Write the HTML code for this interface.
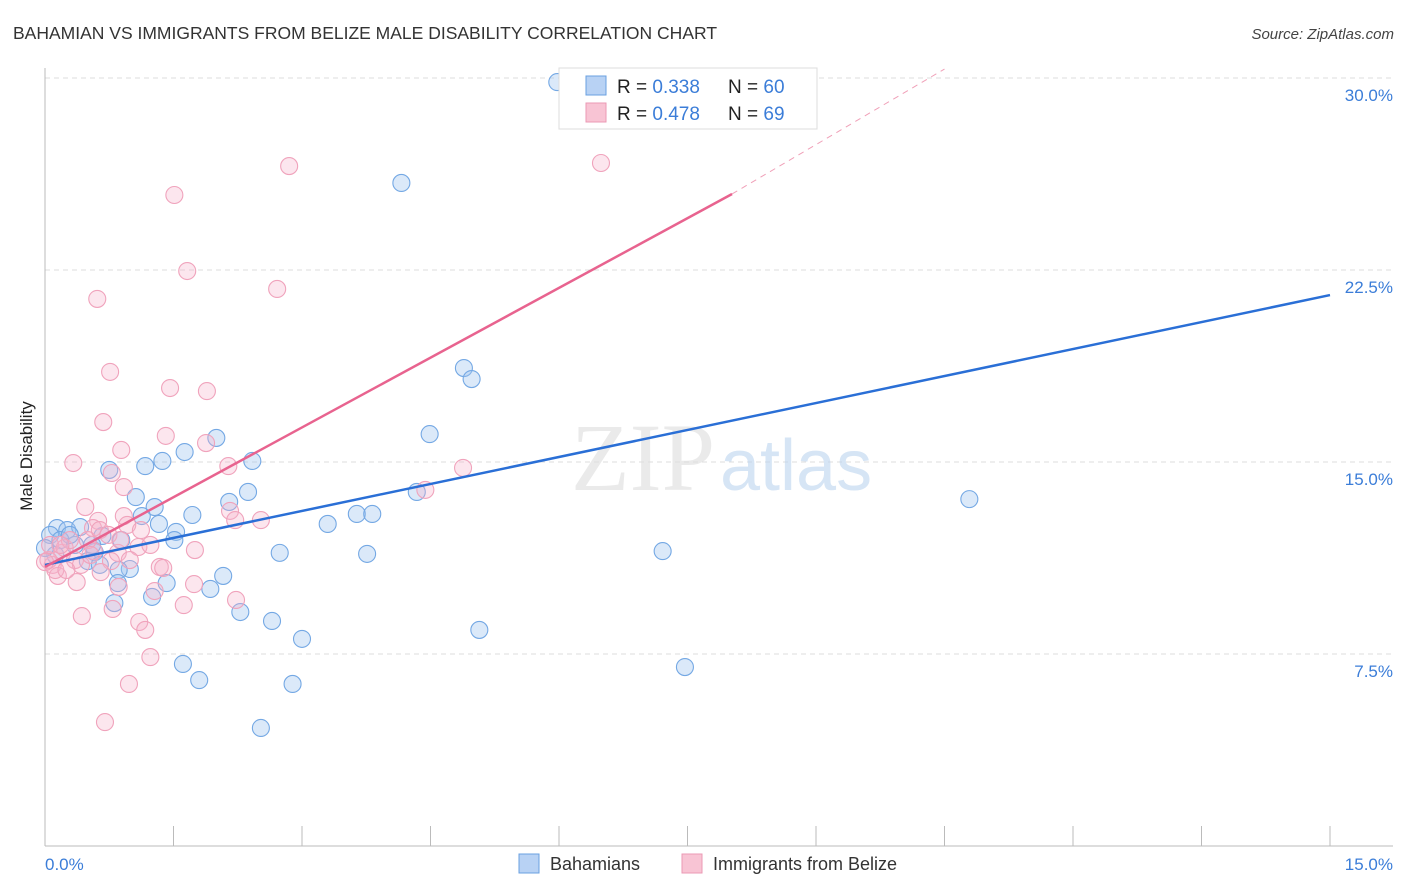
<!DOCTYPE html>
<html><head><meta charset="utf-8"><style>
body{margin:0;background:#fff;font-family:"Liberation Sans",sans-serif;}
</style></head><body>
<svg id="chart" width="1406" height="892" xmlns="http://www.w3.org/2000/svg" style="display:block">
<text x="13" y="39" font-size="17.5" fill="#333">BAHAMIAN VS IMMIGRANTS FROM BELIZE MALE DISABILITY CORRELATION CHART</text>
<text x="1394" y="39" font-size="15" fill="#444" font-style="italic" text-anchor="end">Source: ZipAtlas.com</text>
<g id="grid"></g>
<text x="715" y="490" font-size="96" fill="#ddd" text-anchor="end" font-family="Liberation Serif,serif" opacity="0.6">ZIP</text>
<text x="720" y="490" font-size="72" fill="#bcd4ef" opacity="0.6">atlas</text>
<g id="marks"></g>
<g id="lines"></g>
<text transform="translate(32,456) rotate(-90)" font-size="17" fill="#222" text-anchor="middle">Male Disability</text>
<text x="45" y="870" font-size="17" fill="#3b7dd8">0.0%</text>
<text x="1393" y="870" font-size="17" fill="#3b7dd8" text-anchor="end">15.0%</text>
<g>
<rect x="559" y="68" width="258" height="61" fill="#fff" stroke="#ddd"/>
<rect x="586" y="76" width="20" height="19" fill="#b8d2f4" stroke="#6aa0e0"/>
<rect x="586" y="103" width="20" height="19" fill="#f8c4d4" stroke="#eb9ab4"/>
<text x="617" y="93" font-size="19" fill="#222">R = <tspan fill="#3b7dd8">0.338</tspan></text>
<text x="728" y="93" font-size="19" fill="#222">N = <tspan fill="#3b7dd8">60</tspan></text>
<text x="617" y="120" font-size="19" fill="#222">R = <tspan fill="#3b7dd8">0.478</tspan></text>
<text x="728" y="120" font-size="19" fill="#222">N = <tspan fill="#3b7dd8">69</tspan></text>
</g>
<g>
<rect x="519" y="854" width="20" height="19" fill="#b8d2f4" stroke="#6aa0e0"/>
<text x="550" y="870" font-size="18" fill="#333">Bahamians</text>
<rect x="682" y="854" width="20" height="19" fill="#f8c4d4" stroke="#eb9ab4"/>
<text x="713" y="870" font-size="18" fill="#333">Immigrants from Belize</text>
</g>
</svg>
<script>
const yTicks=[7.5,15,22.5,30];
const yTickLabels=["7.5%","15.0%","22.5%","30.0%"];
const blueX=[5.98,4.16,4.89,4.98,4.49,2.0,1.63,1.37,2.42,1.17,0.75,2.37,4.34,10.79,1.06,2.15,1.28,1.13,1.72,3.30,3.64,3.82,1.33,1.53,0.14,0.26,0.41,0.67,0.89,1.51,0.58,2.74,3.76,7.21,0.50,0.64,0.99,0.86,2.08,1.42,0.85,1.93,1.25,0.81,2.28,2.65,3.0,5.07,1.61,7.47,1.80,2.89,2.52,0.06,0.18,0.35,0.12,0.29,0.55,0.0];
const blueY=[29.84,25.9,18.67,18.24,16.09,15.94,15.39,15.04,15.04,14.84,14.69,13.83,13.83,13.55,13.63,13.44,13.24,12.89,12.93,12.58,12.97,12.97,12.58,12.27,12.42,12.34,12.46,12.11,11.95,11.95,11.48,11.45,11.41,11.52,11.13,10.98,10.82,10.78,10.55,10.27,10.27,10.04,9.73,9.49,9.14,8.79,8.09,8.44,7.11,6.99,6.48,6.33,4.61,12.15,11.95,11.76,11.37,12.15,11.76,11.64];
const pinkX=[6.49,2.85,1.51,1.66,2.71,0.61,0.76,1.46,1.89,0.68,1.41,1.88,0.89,0.33,2.14,4.88,0.78,0.92,4.44,0.47,2.16,2.52,0.92,0.62,0.56,0.96,1.12,1.09,0.85,0.57,0.20,0.35,0.09,0.04,0.15,0.37,1.34,1.38,0.77,0.42,0.65,1.74,1.28,0.86,2.23,1.62,0.79,0.43,1.10,1.17,1.23,0.98,0.70,0.06,0.23,0.50,0.29,0.12,0.64,0.74,0.0,0.18,0.88,1.23,1.75,2.22,0.99,0.53,0.25];
const pinkY=[26.68,26.56,25.43,22.46,21.76,21.37,18.52,17.89,17.77,16.56,16.02,15.74,15.47,14.96,14.84,14.77,14.57,14.02,13.91,13.24,13.09,12.73,12.89,12.70,12.42,12.54,12.34,11.68,11.45,11.52,11.45,11.17,10.98,11.17,10.55,10.31,10.90,10.86,11.13,10.98,10.70,10.23,9.96,10.12,9.61,9.41,9.26,8.98,8.75,8.44,7.38,6.33,4.84,11.76,11.64,11.95,11.95,10.78,12.34,12.15,11.09,11.76,11.95,11.76,11.56,12.73,11.17,11.37,10.78];
const blueTrend=[0,10.98,15,21.52];
const pinkTrend=[0,10.9,8.02,25.47,10.5,30.35];
const NS="http://www.w3.org/2000/svg";
const sx=v=>45+v*(1285/15);
const sy=v=>846-v*25.6;
function mk(tag,attrs,parent){const e=document.createElementNS(NS,tag);for(const k in attrs)e.setAttribute(k,attrs[k]);parent.appendChild(e);return e;}
const grid=document.getElementById('grid');
yTicks.forEach((t,i)=>{
 const l=mk('line',{x1:45,x2:1393,y1:sy(t),y2:sy(t),stroke:'#ddd','stroke-dasharray':'5,4'},grid);
 
 
 const tx=mk('text',{x:1393,y:sy(t)+23,'font-size':17,fill:'#3b7dd8','text-anchor':'end'},grid);
 tx.textContent=yTickLabels[i];
 
 
});
const ax=mk('line',{x1:45,x2:45,y1:68,y2:846,stroke:'#bbb'},grid);


const bx=mk('line',{x1:45,x2:1393,y1:846,y2:846,stroke:'#bbb'},grid);


for(let i=1;i<=10;i++){
 const t=mk('line',{x1:sx(i*1.5),x2:sx(i*1.5),y1:826,y2:846,stroke:'#bbb'},grid);
 
 
}
const marks=document.getElementById('marks');
blueX.forEach((x,i)=>{
 const c=mk('circle',{cx:sx(x),cy:sy(blueY[i]),r:8.5,fill:'rgba(160,196,240,0.38)',stroke:'#74a8e4','stroke-width':1.1},marks);
 
 
});
pinkX.forEach((x,i)=>{
 const c=mk('circle',{cx:sx(x),cy:sy(pinkY[i]),r:8.5,fill:'rgba(246,180,202,0.33)',stroke:'#f0a3bc','stroke-width':1.1},marks);
 
 
});
const lines=document.getElementById('lines');
const bl=mk('line',{x1:sx(blueTrend[0]),y1:sy(blueTrend[1]),x2:sx(blueTrend[2]),y2:sy(blueTrend[3]),stroke:'#2a6fd6','stroke-width':2.5},lines);


const pl=mk('line',{x1:sx(pinkTrend[0]),y1:sy(pinkTrend[1]),x2:sx(pinkTrend[2]),y2:sy(pinkTrend[3]),stroke:'#e8638f','stroke-width':2.5},lines);


const pd=mk('line',{x1:sx(pinkTrend[2]),y1:sy(pinkTrend[3]),x2:sx(pinkTrend[4]),y2:sy(pinkTrend[5]),stroke:'#f0a0b8','stroke-width':1,'stroke-dasharray':'6,5'},lines);


</script>
</body></html>
